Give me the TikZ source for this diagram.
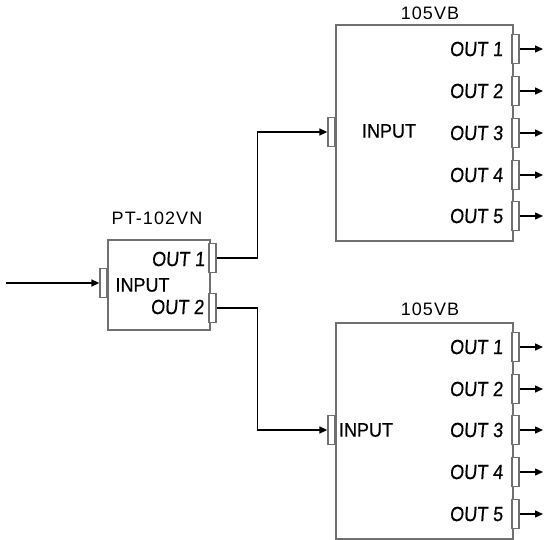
\documentclass[tikz,border=0pt]{standalone}
\usepackage{fontspec}
\setmainfont{Liberation Sans}
\newfontfamily\outfont[FakeStretch=0.88,FakeSlant=0.08,FakeBold=0.6]{Liberation Sans}
\newfontfamily\inpfont[FakeStretch=0.92,FakeBold=0.6]{Liberation Sans}
\newfontfamily\lblfont[LetterSpace=6]{Liberation Sans}
\usetikzlibrary{arrows.meta}
\definecolor{boxgray}{HTML}{707070}
\begin{document}
\begin{tikzpicture}[x=1pt,y=-1pt,
  box/.style={draw=boxgray, line width=1.5pt, fill=white, inner sep=0pt, anchor=north west},
  tab/.style={draw=boxgray, line width=1.3pt, fill=white, inner sep=0pt, minimum width=7pt, minimum height=29pt},
  conn/.style={line width=1.5pt, -{Triangle[length=8pt,width=7pt]}},
  outlbl/.style={font=\outfont\fontsize{20.5}{20.5}\selectfont, anchor=east, inner sep=0pt},
  inlbl/.style={font=\inpfont\fontsize{19.5}{19.5}\selectfont, inner sep=0pt},
  title/.style={font=\lblfont\fontsize{18}{18}\selectfont, inner sep=0pt}]
\useasboundingbox (0,0) rectangle (544,539);

% ---------- top 105VB ----------
\node[box, minimum width=177pt, minimum height=216pt] (A) at (335,24) {};
\node[title] (At) at (430,13) {105VB};
\node[tab] (Ain) at (331.5,132) {};
\node[inlbl] (Ail) at (389,131) {INPUT};
\foreach \i/\y in {1/49,2/91,3/133,4/175,5/216}{
  \node[tab] (Ao\i) at (515.5,\y) {};
  \node[outlbl] (Al\i) at (503,\y) {OUT \i};
  \coordinate (Ae\i) at (543,\y);
  \draw[conn] (Ao\i.east) -- (Ae\i);
}

% ---------- bottom 105VB ----------
\node[box, minimum width=177pt, minimum height=216pt] (B) at (335,322) {};
\node[title] (Bt) at (430,309) {105VB};
\node[tab] (Bin) at (331.5,430) {};
\node[inlbl] (Bil) at (366,430) {INPUT};
\foreach \i/\y in {1/347,2/389,3/430,4/472,5/514}{
  \node[tab] (Bo\i) at (515.5,\y) {};
  \node[outlbl] (Bl\i) at (503,\y) {OUT \i};
  \coordinate (Be\i) at (543,\y);
  \draw[conn] (Bo\i.east) -- (Be\i);
}

% ---------- PT-102VN ----------
\node[box, minimum width=102pt, minimum height=90pt] (P) at (107,239) {};
\node[title] (Pt) at (157,218) {PT-102VN};
\node[tab] (Pin) at (103.5,283) {};
\node[tab] (Po1) at (212.5,258) {};
\node[tab] (Po2) at (212.5,308) {};
\node[inlbl] (Pil) at (142.5,285) {INPUT};
\node[outlbl] (Pl1) at (205,259) {OUT 1};
\node[outlbl] (Pl2) at (204,307) {OUT 2};
\coordinate (Ps) at (6,283);
\draw[conn] (Ps) -- (Pin.west);

% ---------- connections ----------
\draw[conn] (Po1.east) -- ++(41,0) |- (Ain.west);
\draw[conn] (Po2.east) -- ++(41,0) |- (Bin.west);
\end{tikzpicture}
\end{document}
